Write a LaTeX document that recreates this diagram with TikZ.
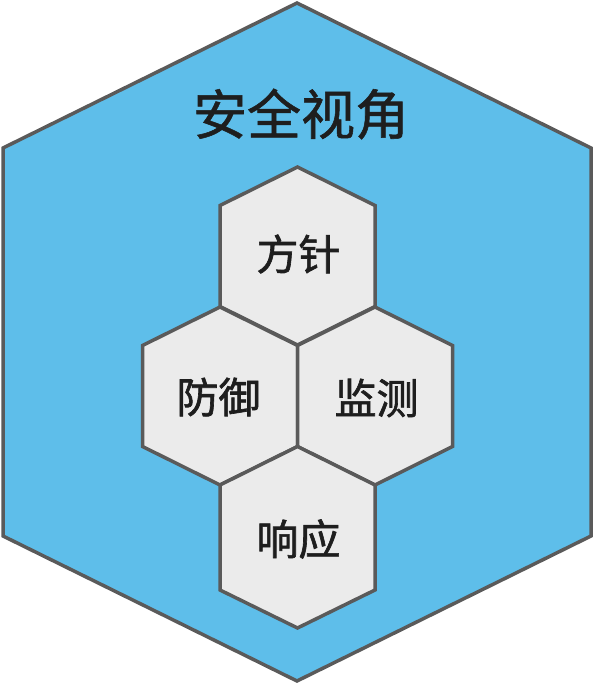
\documentclass[tikz,border=0pt]{standalone}
\usepackage{fontspec}
\newfontfamily\cjk[FakeBold=1.5]{Noto Sans CJK SC}
\newfontfamily\cjkt[FakeBold=1]{Noto Sans CJK SC}
\definecolor{hexblue}{HTML}{5EBEEA}
\definecolor{hexgray}{HTML}{EBEBEB}
\definecolor{hexline}{HTML}{5A5A5A}
\definecolor{txt}{HTML}{1E1E1E}
\begin{document}
\begin{tikzpicture}[x=1pt,y=-1pt,
  outerhex/.style={fill=hexblue,draw=hexline,line width=3.5pt,line join=miter},
  cellhex/.style={fill=hexgray,draw=hexline,line width=3.5pt,line join=miter},
  title/.style={font=\cjkt\fontsize{54}{58}\selectfont,text=txt,inner sep=0pt},
  label/.style={font=\cjk\fontsize{42}{46}\selectfont,text=txt,inner sep=0pt}]
\useasboundingbox (0,0) rectangle (594,684);
\draw[outerhex] (297,3) -- (591,148) -- (591,536) -- (297,681) -- (3,536) -- (3,148) -- cycle;
\foreach \cx/\cy in {297.5/256, 220/396, 375/396}{
  \draw[cellhex] (\cx,\cy-89) -- (\cx+77.5,\cy-50.5) -- (\cx+77.5,\cy+50.5) -- (\cx,\cy+89) -- (\cx-77.5,\cy+50.5) -- (\cx-77.5,\cy-50.5) -- cycle;
}
\draw[cellhex] (297.5,446.5) -- (375,485) -- (375,590) -- (297.5,628) -- (220,590) -- (220,485) -- cycle;
\node[title] (t) at (301,114) {安全视角};
\node[label] (a) at (298.5,254) {方针};
\node[label] (b) at (218.5,397) {防御};
\node[label] (c) at (376.5,398) {监测};
\node[label] (d) at (298.5,539) {响应};
\end{tikzpicture}
\end{document}
